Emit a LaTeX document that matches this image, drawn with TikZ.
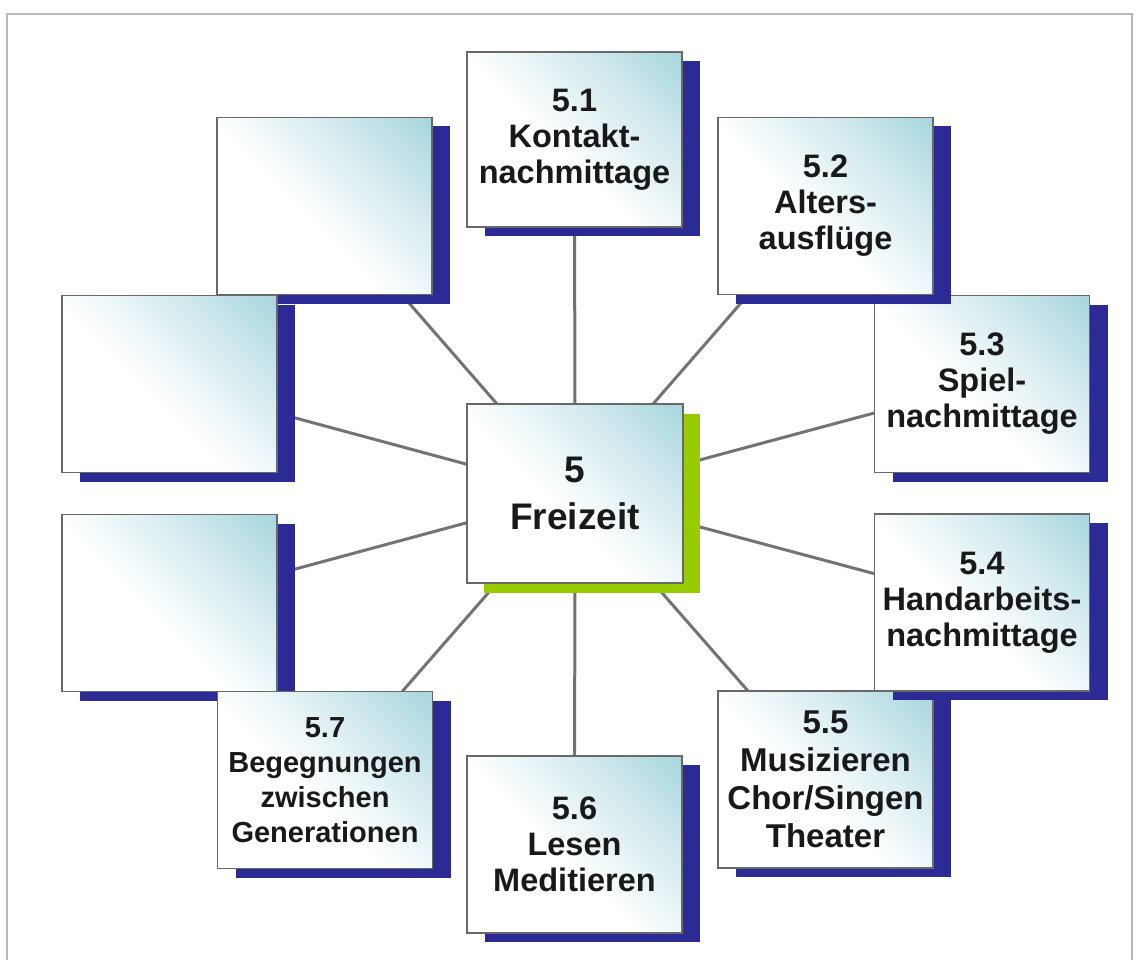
\documentclass[tikz,border=0pt]{standalone}
\usepackage{fontspec}
\setmainfont{Liberation Sans}
\usetikzlibrary{shadows,backgrounds}
\definecolor{shadowblue}{RGB}{44,42,148}
\definecolor{limeshadow}{RGB}{153,204,0}
\definecolor{tealc}{RGB}{170,215,223}
\definecolor{linegray}{RGB}{115,115,115}
\definecolor{framegray}{RGB}{185,185,185}
\definecolor{bordergray}{RGB}{105,105,105}
\colorlet{tealmid}{tealc!45!white}
\pgfdeclarehorizontalshading{boxshade}{100bp}{color(0bp)=(white); color(45bp)=(white); color(64bp)=(tealmid); color(84bp)=(tealc); color(100bp)=(tealc)}
\begin{document}
\begin{tikzpicture}[x=1pt,y=-1pt,
  card/.style={draw=bordergray, line width=1.5pt, shade, shading=boxshade, shading angle=45,
    minimum width=215pt, minimum height=177pt, inner sep=0pt, align=center, text=black!90,
    font=\bfseries\fontsize{32.5}{36}\selectfont},
  blueshadow/.style={drop shadow={shadow xshift=18pt, shadow yshift=-9pt, fill=shadowblue, opacity=1}},
  greenshadow/.style={drop shadow={shadow xshift=17pt, shadow yshift=-10pt, fill=limeshadow, opacity=1}},
  spoke/.style={draw=linegray, line width=3pt}]
\useasboundingbox (0,0) rectangle (1140,960);

% boxes in drawing order
\node[card, blueshadow] (b3) at (982,384) {5.3\\Spiel-\\nachmittage};
\node[card, blueshadow] (b2) at (825.5,206) {5.2\\Alters-\\ausflüge};
\node[card, blueshadow, minimum height=175pt] (b1) at (574.5,139.5) {5.1\\Kontakt-\\nachmittage};
\node[card, blueshadow] (ul) at (324.5,206) {};
\node[card, blueshadow] (l) at (169.5,384) {};
\node[card, blueshadow] (ll) at (169.5,603) {};
\node[card, blueshadow, font=\bfseries\fontsize{29}{35}\selectfont] (b7) at (325,780) {5.7\\Begegnungen\\zwischen\\Generationen};
\node[card, blueshadow] (b6) at (574.5,844.5) {5.6\\Lesen\\Meditieren};
\node[card, blueshadow, font=\bfseries\fontsize{33}{38}\selectfont] (b5) at (825.5,779.5) {5.5\\Musizieren\\Chor/Singen\\Theater};
\node[card, blueshadow] (b4) at (982,602.5) {5.4\\Handarbeits-\\nachmittage};
\node[card, greenshadow, minimum width=216pt, minimum height=179pt, font=\bfseries\fontsize{37}{47}\selectfont] (c) at (575,493.5) {5\\Freizeit};

\begin{scope}[on background layer]
  \fill[white] (0,0) rectangle (1140,960);
  \draw[framegray, line width=2pt] (7,975) -- (7,14) -- (1132,14) -- (1132,975);
  \draw[spoke] (c.center) -- (b1.center);
  \draw[spoke] (c.center) -- (b2.center);
  \draw[spoke] (c.center) -- (b3.center);
  \draw[spoke] (c.center) -- (b4.center);
  \draw[spoke] (c.center) -- (b5.center);
  \draw[spoke] (c.center) -- (b6.center);
  \draw[spoke] (c.center) -- (b7.center);
  \draw[spoke] (c.center) -- (ll.center);
  \draw[spoke] (c.center) -- (l.center);
  \draw[spoke] (c.center) -- (ul.center);
\end{scope}
\end{tikzpicture}
\end{document}
